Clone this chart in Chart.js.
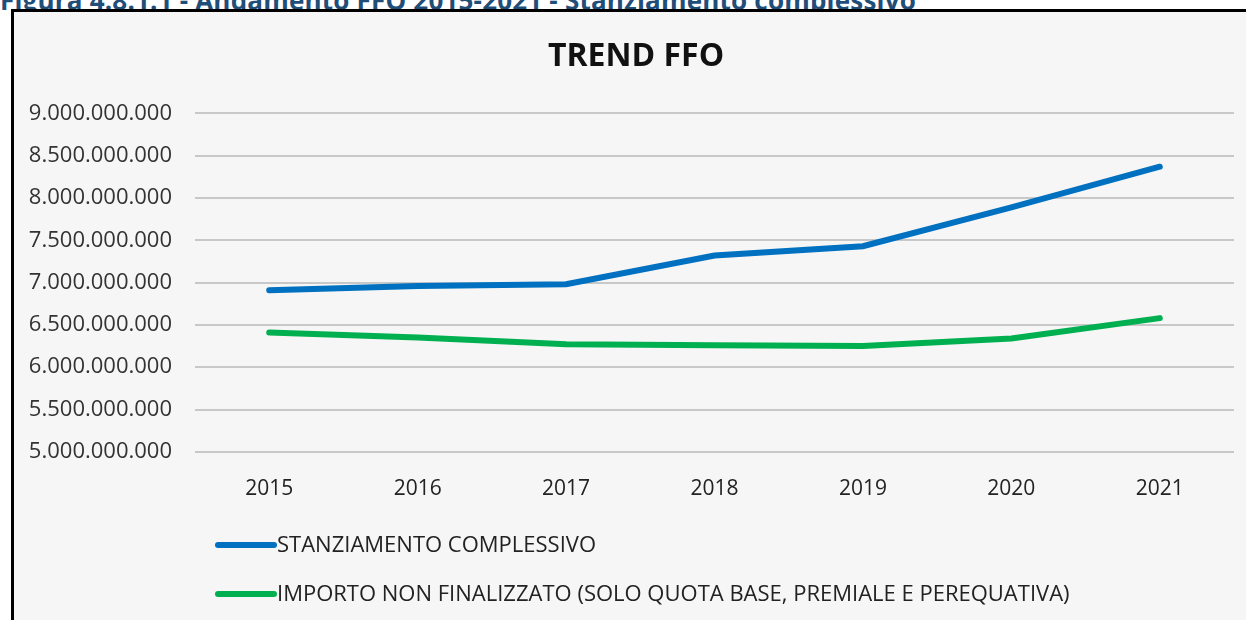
<!DOCTYPE html>
<html>
<head>
<meta charset="utf-8">
<script src="https://cdn.jsdelivr.net/npm/chart.js@4.4.1/dist/chart.umd.min.js"></script>
<style>
  html, body { margin: 0; padding: 0; background: #fff; overflow: hidden; width: 1246px; height: 620px; }
  .caption {
    position: absolute; left: 0; top: -18px; white-space: nowrap; line-height: 26px; letter-spacing: 0.2px;
    font: bold 26px "Open Sans", sans-serif; color: #1f4e79;
  }
  .box {
    position: absolute; left: 11px; top: 9px; width: 1244px; height: 611px;
    border-left: 3px solid #000; border-top: 3px solid #000; background: #f6f6f6;
  }
  .box canvas { display: block; }
</style>
</head>
<body>
<div class="caption">Figura 4.8.1.1 - Andamento FFO 2015-2021 - Stanziamento complessivo</div>
<div class="box"><canvas id="trendChart" width="1244" height="608"></canvas></div>
<script>
const years = ['2015', '2016', '2017', '2018', '2019', '2020', '2021'];
const stanziamento = [6.91e9, 6.96e9, 6.98e9, 7.32e9, 7.43e9, 7.89e9, 8.37e9];
const nonFinalizzato = [6.41e9, 6.35e9, 6.27e9, 6.26e9, 6.25e9, 6.34e9, 6.58e9];
const seriesNames = ['STANZIAMENTO COMPLESSIVO', 'IMPORTO NON FINALIZZATO (SOLO QUOTA BASE, PREMIALE E PEREQUATIVA)'];

function formatIt(v) {
    return String(v).replace(/\B(?=(\d{3})+(?!\d))/g, '.');
}

// legenda verticale sotto il grafico, come nell'originale
const stackedLegend = {
    id: 'stackedLegend',
    afterDraw(chart) {
        const ctx = chart.ctx;
        ctx.save();
        ctx.font = '22px "Open Sans", sans-serif';
        ctx.textBaseline = 'middle';
        chart.data.datasets.forEach(function(ds, i) {
            const y = 533 + i * 49;
            ctx.strokeStyle = ds.borderColor;
            ctx.lineWidth = 6;
            ctx.lineCap = 'round';
            ctx.beginPath();
            ctx.moveTo(204, y);
            ctx.lineTo(260, y);
            ctx.stroke();
            ctx.fillStyle = '#222';
            ctx.fillText(ds.label, 263, y + 1);
        });
        ctx.restore();
    }
};

const ctx = document.getElementById('trendChart').getContext('2d');
new Chart(ctx, {
    type: 'line',
    data: {
        labels: years,
        datasets: [{
            label: seriesNames[0],
            data: stanziamento,
            borderColor: '#0070c0',
            borderWidth: 6,
            borderCapStyle: 'round',
            pointRadius: 0,
            tension: 0
        }, {
            label: seriesNames[1],
            data: nonFinalizzato,
            borderColor: '#00b050',
            borderWidth: 6,
            borderCapStyle: 'round',
            pointRadius: 0,
            tension: 0
        }]
    },
    options: {
        responsive: false,
        animation: false,
        layout: { padding: { left: 0, right: 0, top: 0, bottom: 101 } },
        plugins: {
            legend: { display: false },
            tooltip: { enabled: false },
            title: {
                display: true,
                text: 'TREND FFO',
                color: '#111',
                font: { family: '"Open Sans", sans-serif', size: 32, weight: 'bold' },
                padding: { top: 26, bottom: 37 }
            }
        },
        scales: {
            x: {
                offset: true,
                grid: { display: false },
                border: { display: false },
                ticks: { color: '#222', padding: 17, font: { family: '"Open Sans", sans-serif', size: 21 } }
            },
            y: {
                min: 5e9,
                max: 9e9,
                afterFit(scale) { scale.width = 181; },
                border: { display: false },
                grid: { color: '#c8c8c8', lineWidth: 2, drawTicks: false },
                ticks: {
                    stepSize: 5e8,
                    color: '#333',
                    padding: 23,
                    font: { family: '"Open Sans", sans-serif', size: 22 },
                    callback: function(v) { return formatIt(v); }
                }
            },
            // spazio vuoto a destra dell'area del grafico
            yRight: {
                position: 'right',
                min: 5e9,
                max: 9e9,
                afterFit(scale) { scale.width = 24; },
                grid: { display: false },
                border: { display: false },
                ticks: { display: false }
            }
        }
    },
    plugins: [stackedLegend]
});
</script>
</body>
</html>
